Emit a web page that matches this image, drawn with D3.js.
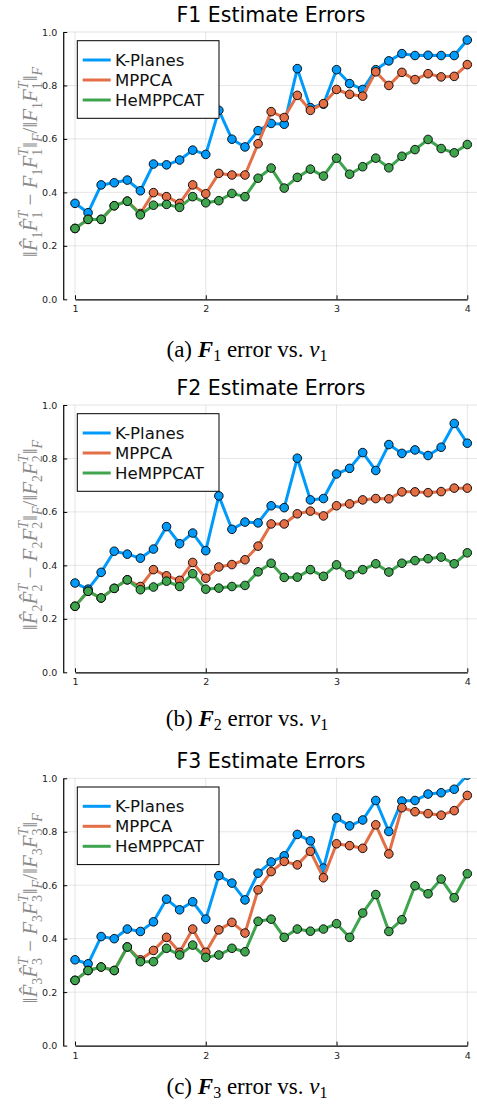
<!DOCTYPE html>
<html>
<head>
<meta charset="utf-8">
<script src="https://cdn.jsdelivr.net/npm/d3@7"></script>
<style>
  body { margin: 0; background: #fff; }
  svg { display: block; }
</style>
</head>
<body>
<svg id="chart" width="477" height="1105"></svg>
<script>
(function () {
  'use strict';

  // v1 values on the x axis, 1.0 .. 4.0
  const xs = [1.0, 1.1, 1.2, 1.3, 1.4, 1.5, 1.6, 1.7, 1.8, 1.9, 2.0, 2.1, 2.2, 2.3, 2.4, 2.5,
    2.6, 2.7, 2.8, 2.9, 3.0, 3.1, 3.2, 3.3, 3.4, 3.5, 3.6, 3.7, 3.8, 3.9, 4.0];
  const seriesNames = ["K-Planes", "MPPCA", "HeMPPCAT"];
  const xTicks = [1, 2, 3, 4];
  const yTicks = [0.0, 0.2, 0.4, 0.6, 0.8, 1.0];

  // F1
  const f1KPlanes = [0.359, 0.324, 0.428, 0.436, 0.446, 0.406, 0.506, 0.503, 0.521, 0.558, 0.542,
    0.707, 0.599, 0.570, 0.631, 0.658, 0.655, 0.863, 0.717, 0.730, 0.859, 0.807, 0.785, 0.859,
    0.892, 0.919, 0.912, 0.913, 0.912, 0.912, 0.970];
  const f1MPPCA = [0.265, 0.299, 0.299, 0.350, 0.367, 0.321, 0.399, 0.384, 0.359, 0.428, 0.395,
    0.471, 0.465, 0.465, 0.582, 0.702, 0.680, 0.763, 0.707, 0.732, 0.785, 0.767, 0.760, 0.851,
    0.800, 0.849, 0.822, 0.844, 0.832, 0.834, 0.878];
  const f1HeMPPCAT = [0.265, 0.299, 0.299, 0.350, 0.367, 0.316, 0.352, 0.355, 0.344, 0.384, 0.361,
    0.369, 0.396, 0.384, 0.453, 0.491, 0.416, 0.456, 0.487, 0.461, 0.528, 0.468, 0.496, 0.528,
    0.492, 0.535, 0.560, 0.598, 0.564, 0.548, 0.579];

  // F2
  const f2KPlanes = [0.334, 0.311, 0.374, 0.453, 0.442, 0.427, 0.461, 0.545, 0.481, 0.521, 0.455,
    0.660, 0.535, 0.562, 0.559, 0.623, 0.616, 0.801, 0.645, 0.650, 0.742, 0.763, 0.822, 0.755,
    0.852, 0.819, 0.832, 0.811, 0.842, 0.931, 0.857];
  const f2MPPCA = [0.247, 0.303, 0.278, 0.314, 0.346, 0.321, 0.384, 0.361, 0.344, 0.411, 0.352,
    0.394, 0.403, 0.421, 0.472, 0.555, 0.555, 0.593, 0.603, 0.585, 0.623, 0.630, 0.645, 0.650,
    0.649, 0.675, 0.675, 0.672, 0.676, 0.689, 0.689];
  const f2HeMPPCAT = [0.247, 0.303, 0.278, 0.314, 0.346, 0.309, 0.319, 0.341, 0.321, 0.369, 0.311,
    0.315, 0.321, 0.325, 0.376, 0.408, 0.355, 0.356, 0.384, 0.359, 0.402, 0.365, 0.384, 0.406,
    0.375, 0.408, 0.418, 0.425, 0.431, 0.406, 0.447];

  // F3
  const f3KPlanes = [0.321, 0.306, 0.408, 0.400, 0.436, 0.427, 0.463, 0.548, 0.508, 0.538, 0.473,
    0.636, 0.608, 0.545, 0.645, 0.687, 0.710, 0.790, 0.766, 0.664, 0.852, 0.822, 0.844, 0.917,
    0.801, 0.915, 0.917, 0.941, 0.946, 0.959, 1.012];
  const f3MPPCA = [0.244, 0.281, 0.294, 0.281, 0.369, 0.321, 0.356, 0.405, 0.349, 0.436, 0.349,
    0.433, 0.461, 0.421, 0.583, 0.651, 0.689, 0.676, 0.727, 0.628, 0.755, 0.748, 0.738, 0.826,
    0.717, 0.890, 0.875, 0.868, 0.862, 0.879, 0.936];
  const f3HeMPPCAT = [0.244, 0.281, 0.294, 0.281, 0.369, 0.314, 0.314, 0.364, 0.339, 0.376, 0.330,
    0.339, 0.364, 0.351, 0.465, 0.473, 0.405, 0.436, 0.428, 0.436, 0.456, 0.405, 0.496, 0.565,
    0.427, 0.471, 0.598, 0.568, 0.623, 0.553, 0.643];

  const colors = ["#009afa", "#e26f46", "#3ea44e"];

  const panels = [
    { idx: "1", letter: "a", top: 32, caption: 357, series: [f1KPlanes, f1MPPCA, f1HeMPPCAT] },
    { idx: "2", letter: "b", top: 405, caption: 726, series: [f2KPlanes, f2MPPCA, f2HeMPPCAT] },
    { idx: "3", letter: "c", top: 778.3, caption: 1094, series: [f3KPlanes, f3MPPCA, f3HeMPPCAT] }
  ];

  const svg = d3.select("#chart");
  const plotH = 267.3;
  const x = d3.scaleLinear().domain([1, 4]).range([75, 467.3]);
  const left = x(0.91), right = x(4.09);

  panels.forEach(function (p, pi) {
    const y = d3.scaleLinear().domain([0, 1]).range([p.top + plotH, p.top]);
    const g = svg.append("g");

    // clip
    g.append("clipPath").attr("id", "clip" + pi)
      .append("rect")
      .attr("x", left).attr("y", p.top)
      .attr("width", right - left).attr("height", plotH);

    // grid
    g.append("g").selectAll("line.gx").data(xTicks).join("line")
      .attr("x1", d => x(d)).attr("x2", d => x(d))
      .attr("y1", p.top).attr("y2", p.top + plotH)
      .attr("stroke", "#000").attr("stroke-opacity", 0.1).attr("stroke-width", 1);
    g.append("g").selectAll("line.gy").data(yTicks.slice(1)).join("line")
      .attr("x1", left).attr("x2", right)
      .attr("y1", d => y(d)).attr("y2", d => y(d))
      .attr("stroke", "#000").attr("stroke-opacity", 0.1).attr("stroke-width", 1);

    // axes
    const yAxis = g.append("g")
      .attr("transform", `translate(${left},0)`)
      .call(d3.axisLeft(y).tickValues(yTicks).tickFormat(d3.format(".1f")).tickSizeInner(-4).tickSizeOuter(0).tickPadding(6));
    const xAxis = g.append("g")
      .attr("transform", `translate(0,${p.top + plotH})`)
      .call(d3.axisBottom(x).tickValues(xTicks).tickFormat(d3.format("d")).tickSizeInner(-4).tickSizeOuter(0).tickPadding(5));
    [yAxis, xAxis].forEach(function (a) {
      a.selectAll("text").attr("font-family", "DejaVu Sans").attr("font-size", 9.5).attr("fill", "#222");
      a.selectAll(".tick line").attr("stroke", "#000").attr("stroke-width", 1);
      a.select(".domain").attr("stroke", "#000").attr("stroke-width", 1.2);
    });
    xAxis.selectAll("text").attr("dy", "0.85em");

    // series
    const data = g.append("g").attr("clip-path", `url(#clip${pi})`);
    p.series.forEach(function (vals, si) {
      const pts = xs.map((v, i) => [v, vals[i]]);
      data.append("path")
        .datum(pts)
        .attr("fill", "none")
        .attr("stroke", colors[si])
        .attr("stroke-width", 3)
        .attr("stroke-linejoin", "round")
        .attr("d", d3.line().x(d => x(d[0])).y(d => y(d[1])));
      data.append("g").selectAll("circle").data(pts).join("circle")
        .attr("cx", d => x(d[0])).attr("cy", d => y(d[1]))
        .attr("r", 4.3)
        .attr("fill", colors[si])
        .attr("stroke", "#000").attr("stroke-width", 0.9);
    });

    // title
    g.append("text")
      .attr("x", 271).attr("y", p.top - 10)
      .attr("text-anchor", "middle")
      .attr("font-family", "DejaVu Sans").attr("font-size", 20.5)
      .attr("fill", "#000")
      .text(`F${p.idx} Estimate Errors`);

    // legend
    const lg = g.append("g").attr("transform", `translate(77.3,${p.top + 8.7})`);
    lg.append("rect").attr("width", 141.7).attr("height", 77.6)
      .attr("fill", "#fff").attr("stroke", "#000").attr("stroke-width", 1);
    seriesNames.forEach(function (name, si) {
      const ly = 19.3 + si * 20;
      lg.append("line").attr("x1", 5.4).attr("x2", 33.4).attr("y1", ly).attr("y2", ly)
        .attr("stroke", colors[si]).attr("stroke-width", 3);
      lg.append("text").attr("x", 37.7).attr("y", ly).attr("dy", "0.36em")
        .attr("font-family", "DejaVu Sans").attr("font-size", 16.6)
        .attr("fill", "#111").text(name);
    });

    // y label (math)
    const yl = g.append("text")
      .attr("transform", `translate(37,${p.top + 130}) rotate(-90)`)
      .attr("text-anchor", "middle")
      .attr("font-family", "Liberation Serif").attr("font-size", 21)
      .attr("fill", "#8a8a8a");
    const parts = [
      ["‖", "n"], ["F̂", "i"], [p.idx, "sub"], ["F̂", "i"], [p.idx, "sub"], ["T", "sup"],
      [" − ", "n"], ["F", "i"], [p.idx, "sub"], ["F", "i"], [p.idx, "sub"], ["T", "sup"],
      ["‖", "n"], ["F", "subi"], ["/", "n"], ["‖", "n"], ["F", "i"], [p.idx, "sub"],
      ["F", "i"], [p.idx, "sub"], ["T", "sup"], ["‖", "n"], ["F", "subi"]
    ];
    let shift = 0;
    parts.forEach(function (pt) {
      const [t, kind] = pt;
      let target = 0, size = 21, style = "normal", dx = 0;
      if (kind === "i") { style = "italic"; }
      if (kind === "sub") { target = 5; size = 14; }
      if (kind === "subi") { target = 5; size = 14; style = "italic"; }
      if (kind === "sup") { target = -9; size = 14; style = "italic"; dx = -7; }
      yl.append("tspan")
        .attr("dy", target - shift)
        .attr("dx", dx)
        .attr("font-size", size)
        .attr("font-style", style)
        .text(t);
      shift = target;
    });

    // caption
    const cap = svg.append("text")
      .attr("x", 247).attr("y", p.caption)
      .attr("text-anchor", "middle")
      .attr("font-family", "Liberation Serif").attr("font-size", 23)
      .attr("fill", "#000");
    cap.append("tspan").text(`(${p.letter}) `);
    cap.append("tspan").attr("font-weight", "bold").attr("font-style", "italic").text("F");
    cap.append("tspan").attr("font-size", 16).attr("dy", 4).text(p.idx);
    cap.append("tspan").attr("dy", -4).text(" error vs. ");
    cap.append("tspan").attr("font-style", "italic").text("v");
    cap.append("tspan").attr("font-size", 16).attr("dy", 4).text("1");
  });

})();
</script>
</body>
</html>
